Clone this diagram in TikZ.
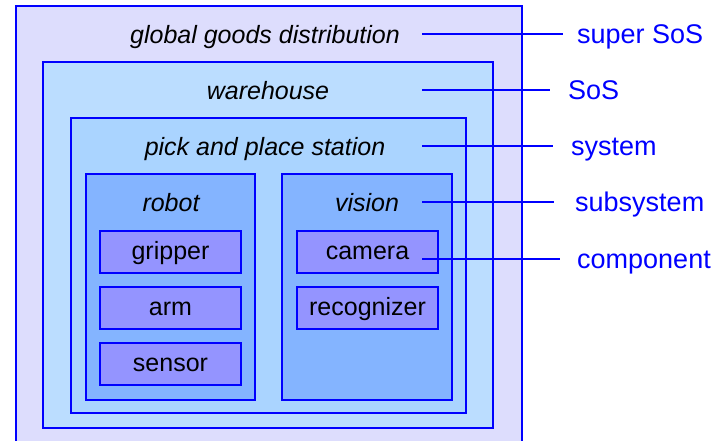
\documentclass[tikz,border=0pt]{standalone}
\usepackage{fontspec}
\setmainfont{Liberation Sans}
\definecolor{cOuter}{HTML}{DDDDFD}
\definecolor{cWare}{HTML}{BBDDFF}
\definecolor{cPick}{HTML}{AAD4FF}
\definecolor{cSub}{HTML}{84B4FF}
\definecolor{cComp}{HTML}{9494FF}
\definecolor{cLine}{HTML}{0000FF}
\begin{document}
\begin{tikzpicture}[x=1pt,y=-1pt,
 frame/.style={draw=cLine, line width=1.3pt, anchor=north west, inner sep=0pt, outer sep=0pt},
 boxlabel/.style={font=\fontsize{25}{30}\selectfont\itshape, text height=18pt, text depth=0pt, inner sep=0pt},
 complabel/.style={font=\fontsize{25}{30}\selectfont, text height=15pt, text depth=0pt, inner sep=0pt},
 level/.style={font=\fontsize{27}{32}\selectfont, text=cLine, text height=18pt, text depth=0pt, anchor=west, inner ysep=0pt},
 leader/.style={draw=cLine, line width=2.6pt}]
\useasboundingbox (0,0) rectangle (717,440);
% containers
\node[frame, fill=cOuter, minimum width=506pt, minimum height=460pt] (outer) at (16,6) {};
\node[frame, fill=cWare, minimum width=450pt, minimum height=366pt] (ware) at (43,62) {};
\node[frame, fill=cPick, minimum width=395pt, minimum height=295pt] (pick) at (71,118) {};
\node[frame, fill=cSub, minimum width=169pt, minimum height=226pt] (robot) at (86,174) {};
\node[frame, fill=cSub, minimum width=170pt, minimum height=226pt] (vision) at (282,174) {};
% components
\node[frame, fill=cComp, minimum width=141pt, minimum height=42pt] (gripper) at (100,231) {};
\node[frame, fill=cComp, minimum width=141pt, minimum height=42pt] (arm) at (100,287) {};
\node[frame, fill=cComp, minimum width=141pt, minimum height=42pt] (sensor) at (100,343) {};
\node[frame, fill=cComp, minimum width=141pt, minimum height=42pt] (camera) at (297,231) {};
\node[frame, fill=cComp, minimum width=141pt, minimum height=42pt] (recog) at (297,287) {};
% container labels
\node[boxlabel] (tglobal) at (265,34) {global goods distribution};
\node[boxlabel] (tware) at (268,90) {warehouse};
\node[boxlabel] (tpick) at (265,146) {pick and place station};
\node[boxlabel] (trobot) at (171,202) {robot};
\node[boxlabel] (tvision) at (367,202) {vision};
% component labels
\node[complabel] at (gripper.center) {gripper};
\node[complabel] at (arm.center) {arm};
\node[complabel] at (sensor.center) {sensor};
\node[complabel] at (camera.center) {camera};
\node[complabel] at (recog.center) {recognizer};
% level labels
\node[level, inner xsep=14pt] (lsup) at (563,34) {super SoS};
\node[level, inner xsep=18pt] (lsos) at (550,90) {SoS};
\node[level, inner xsep=18pt] (lsys) at (553,146) {system};
\node[level, inner xsep=21pt] (lsub) at (554,202) {subsystem};
\node[level, inner xsep=17pt] (lcomp) at (560,259) {component};
% leader lines
\coordinate (csup) at (422,34);
\coordinate (csos) at (422,90);
\coordinate (csys) at (422,146);
\coordinate (csub) at (422,202);
\coordinate (ccomp) at (422,259);
\draw[leader] (csup) -- (lsup.west);
\draw[leader] (csos) -- (lsos.west);
\draw[leader] (csys) -- (lsys.west);
\draw[leader] (csub) -- (lsub.west);
\draw[leader] (ccomp) -- (lcomp.west);
\end{tikzpicture}
\end{document}
